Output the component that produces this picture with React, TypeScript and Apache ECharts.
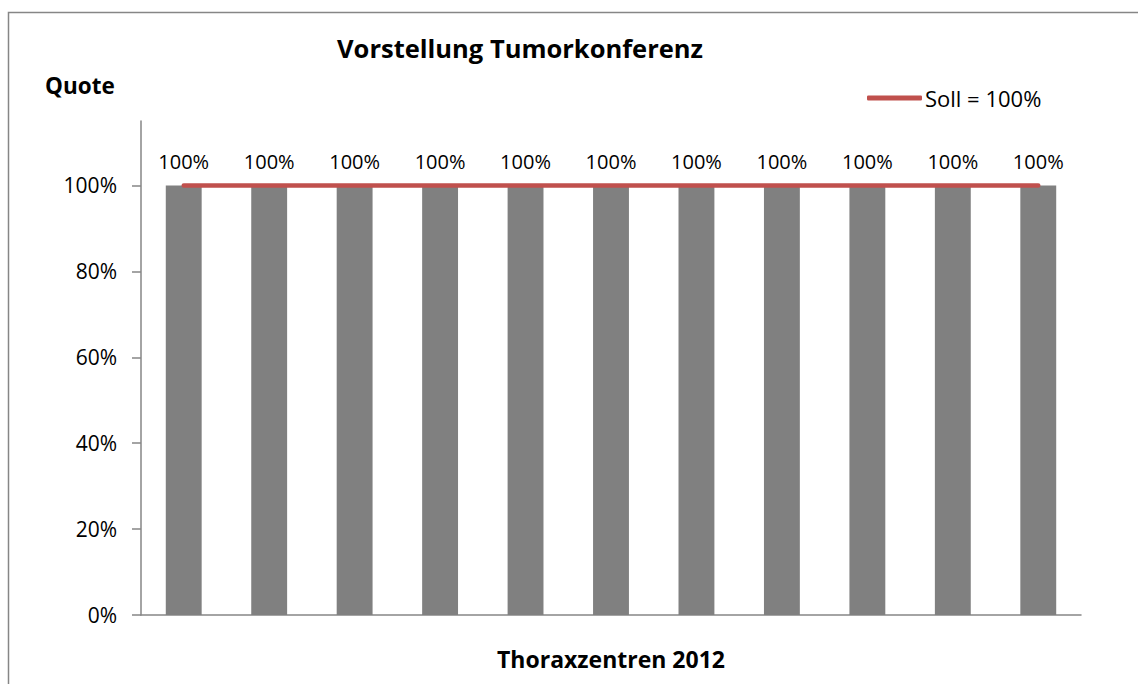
import React, { useEffect, useRef } from "react";
import * as echarts from "echarts";

const categories = ["Zentrum 1", "Zentrum 2", "Zentrum 3", "Zentrum 4", "Zentrum 5", "Zentrum 6", "Zentrum 7", "Zentrum 8", "Zentrum 9", "Zentrum 10", "Zentrum 11"];
const quoteValues = [100, 100, 100, 100, 100, 100, 100, 100, 100, 100, 100];
const sollValues = [100, 100, 100, 100, 100, 100, 100, 100, 100, 100, 100];
const yTickValues = [0, 20, 40, 60, 80, 100];

const FONT = "'Open Sans', Lato, sans-serif";

export default function App() {
  const ref = useRef<HTMLDivElement>(null);
  useEffect(() => {
    const chart = echarts.init(ref.current!, null, { renderer: "svg" });
    chart.setOption({
      animation: false,
      backgroundColor: "#ffffff",
      textStyle: { fontFamily: FONT },
      grid: { left: 141, right: 57, top: 121, bottom: 69, containLabel: false },
      legend: {
        left: 867,
        top: 87,
        padding: 0,
        data: [{ name: "Soll = 100%", icon: "roundRect" }],
        itemWidth: 55,
        itemHeight: 5,
        textStyle: { fontSize: 22, color: "#000", fontFamily: FONT, padding: [0, 0, 0, -2] },
      },
      xAxis: {
        type: "category",
        data: categories,
        axisLine: { lineStyle: { color: "#868686", width: 1.5 } },
        axisTick: { show: false },
        axisLabel: { show: false },
        name: "Thoraxzentren 2012",
        nameLocation: "middle",
        nameGap: 32,
        nameTextStyle: { fontSize: 23, fontWeight: "bold", color: "#000", fontFamily: FONT },
      },
      yAxis: {
        type: "value",
        min: 0,
        max: 115,
        interval: 20,
        splitLine: { show: false },
        axisLine: { show: true, lineStyle: { color: "#868686", width: 1.5 } },
        axisTick: { show: true, length: 9, lineStyle: { color: "#868686", width: 1.5 }, customValues: yTickValues },
        axisLabel: {
          formatter: "{value}%",
          fontSize: 21,
          color: "#000",
          margin: 24,
          fontFamily: FONT,
          customValues: yTickValues,
        },
      },
      graphic: [
        {
          type: "rect",
          shape: { x: 8.5, y: 12.5, width: 1300, height: 800 },
          style: { fill: "none", stroke: "#868686", lineWidth: 1.5 },
          silent: true,
          z: -10,
        },
        {
          type: "text",
          x: 520,
          y: 48,
          style: {
            text: "Vorstellung Tumorkonferenz",
            fontSize: 25.5,
            fontWeight: "bold",
            fill: "#000",
            fontFamily: FONT,
            textAlign: "center",
            textVerticalAlign: "middle",
          },
        },
        {
          type: "text",
          x: 45,
          y: 85,
          style: {
            text: "Quote",
            fontSize: 22.5,
            fontWeight: "bold",
            fill: "#000",
            fontFamily: FONT,
            textAlign: "left",
            textVerticalAlign: "middle",
          },
        },
      ],
      series: [
        {
          name: "Quote",
          type: "bar",
          data: quoteValues,
          barWidth: "42%",
          itemStyle: { color: "#808080" },
          label: {
            show: true,
            position: "top",
            distance: 14,
            formatter: "{c}%",
            fontSize: 20,
            color: "#000",
            fontFamily: FONT,
          },
          z: 2,
        },
        {
          name: "Soll = 100%",
          type: "line",
          data: sollValues,
          symbol: "none",
          lineStyle: { color: "#C0504D", width: 4.5, cap: "round" },
          itemStyle: { color: "#C0504D" },
          z: 3,
        },
      ],
    });
    return () => chart.dispose();
  }, []);
  return (
    <div
      ref={ref}
      style={{ position: "fixed", left: 0, top: 0, width: 1138, height: 684 }}
    />
  );
}
